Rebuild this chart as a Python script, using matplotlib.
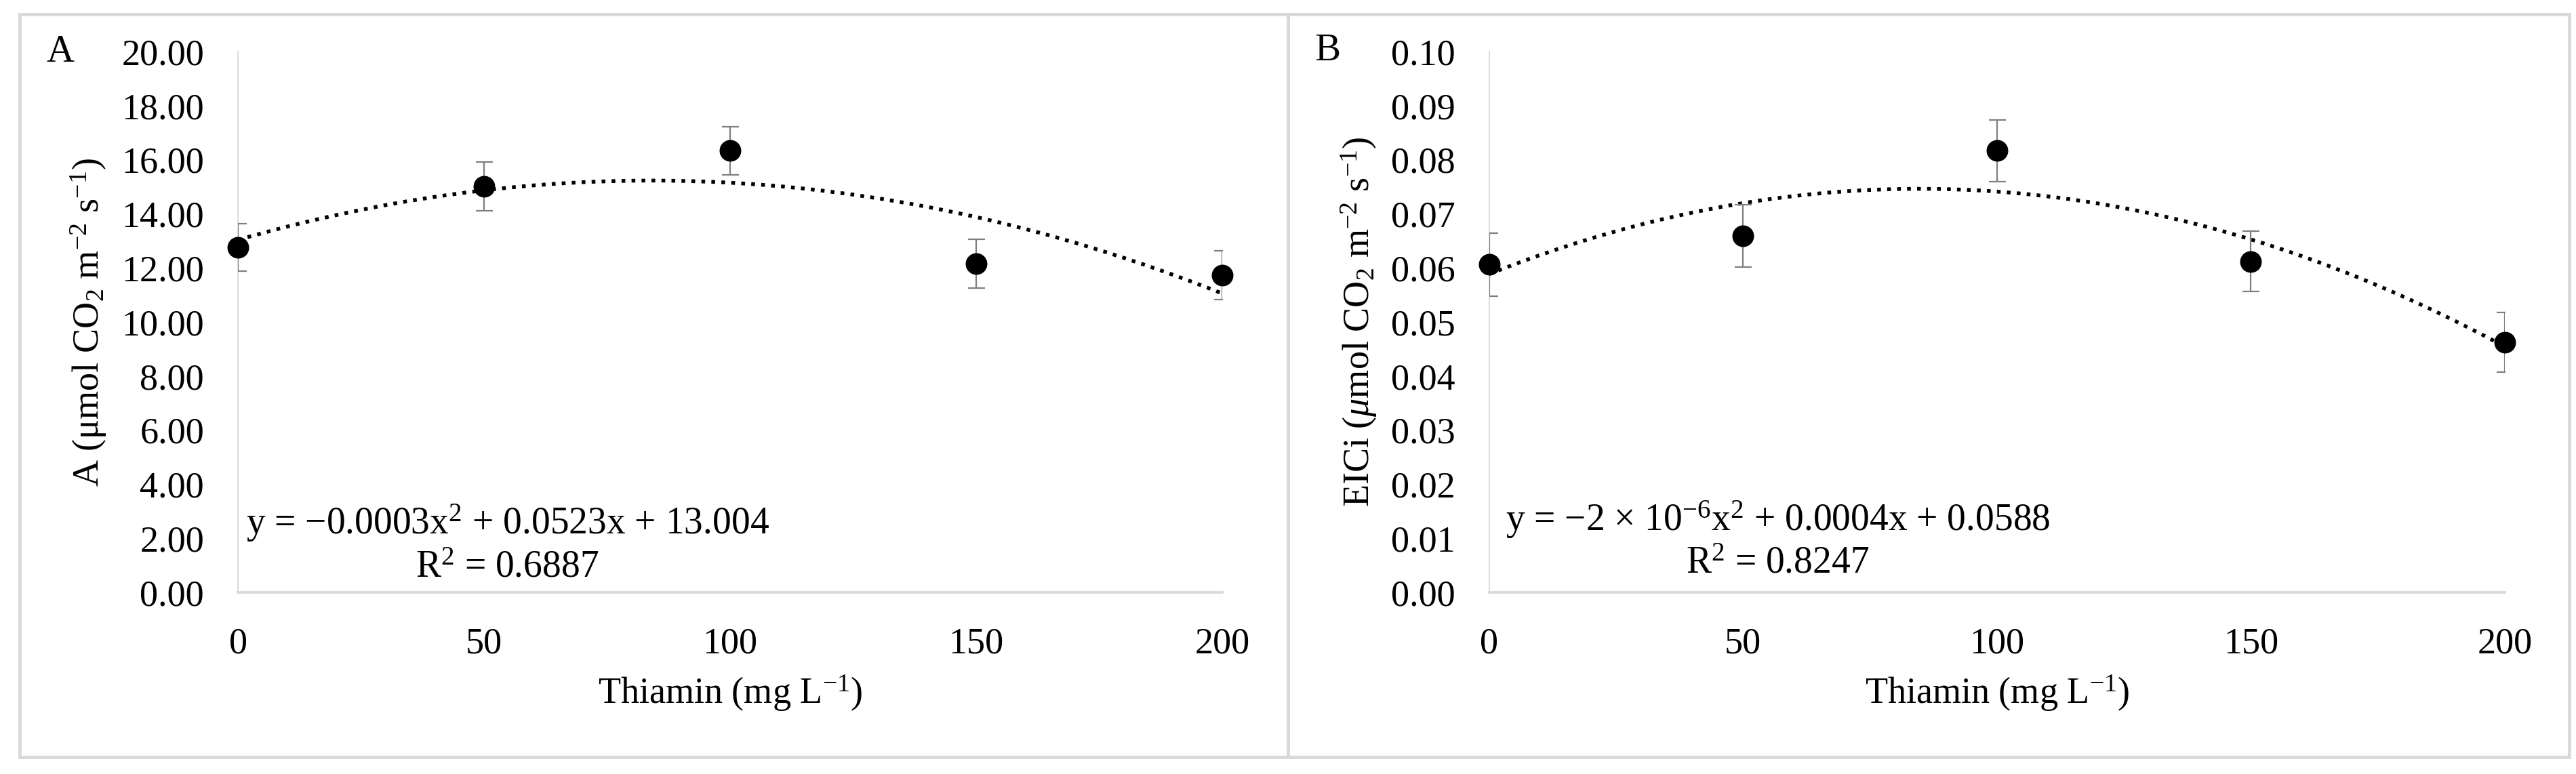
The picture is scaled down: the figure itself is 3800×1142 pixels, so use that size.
import numpy as np
import matplotlib
matplotlib.use('Agg')
import matplotlib.pyplot as plt
from matplotlib.patches import Rectangle

plt.rcParams['font.family'] = ['Liberation Serif', 'DejaVu Serif']
plt.rcParams['mathtext.fontset'] = 'custom'
plt.rcParams['mathtext.rm'] = 'Liberation Serif'
plt.rcParams['mathtext.it'] = 'Liberation Serif:italic'

# data
thiamin = [0, 50, 100, 150, 200]
a_mean = [12.76, 15.02, 16.33, 12.15, 11.72]
a_err = [0.87, 0.90, 0.88, 0.90, 0.90]
eici_mean = [0.0606, 0.0659, 0.0817, 0.0612, 0.0462]
eici_err = [0.0058, 0.0058, 0.0057, 0.0056, 0.0055]

x_ticks = [0, 50, 100, 150, 200]
a_ticks = [0, 2, 4, 6, 8, 10, 12, 14, 16, 18, 20]
eici_ticks = [0.00, 0.01, 0.02, 0.03, 0.04, 0.05, 0.06, 0.07, 0.08, 0.09, 0.10]

a_ylabel = 'A (μmol CO$_2$ m$^{-2}$ s$^{-1}$)'
eici_ylabel = 'EICi ($\\mu$mol CO$_2$ m$^{-2}$ s$^{-1}$)'
x_label = 'Thiamin (mg L$^{-1}$)'
a_eq = 'y = −0.0003x$^2$ + 0.0523x + 13.004'
a_r2 = 'R$^2$ = 0.6887'
eici_eq = 'y = −2 × 10$^{-6}$x$^2$ + 0.0004x + 0.0588'
eici_r2 = 'R$^2$ = 0.8247'

FS = 39
W, H = 3800, 1142

fig = plt.figure(figsize=(W / 100, H / 100), dpi=100)

# panel frames
fig.add_artist(Rectangle((29 / W, 1 - 1117 / H), (1900 - 29) / W, (1117 - 21) / H,
                         transform=fig.transFigure, fill=False, ec='#d9d9d9', lw=3.5))
fig.add_artist(Rectangle((1900 / W, 1 - 1117 / H), (3790 - 1900) / W, (1117 - 21) / H,
                         transform=fig.transFigure, fill=False, ec='#d9d9d9', lw=3.5))

ax1 = fig.add_axes([351 / W, 1 - 874 / H, (1803 - 351) / W, (874 - 76) / H])
ax2 = fig.add_axes([2196.5 / W, 1 - 874 / H, (3695 - 2196.5) / W, (874 - 76) / H])


def draw(ax, ymean, yerr, yticks, fmt, ylabel, ylab_x, eq, eq_pos, r2, r2_pos):
    coef = np.polyfit(thiamin, ymean, 2)
    xx = np.linspace(0, 200, 300)
    ax.plot(xx, np.polyval(coef, xx), color='black', lw=4, ls=':', zorder=2)
    ax.errorbar(thiamin, ymean, yerr=yerr, fmt='none', ecolor='#7f7f7f',
                elinewidth=1.6, capsize=9, capthick=1.6, zorder=3)
    ax.plot(thiamin, ymean, 'o', color='black', ms=22, zorder=4, clip_on=False)
    ax.set_xlim(0, 200)
    ax.set_ylim(yticks[0], yticks[-1])
    ax.set_xticks(x_ticks)
    ax.set_yticks(yticks)
    ax.set_yticklabels([fmt % t for t in yticks])
    ax.tick_params(axis='both', length=0, labelsize=FS)
    ax.tick_params(axis='y', pad=36)
    ax.tick_params(axis='x', pad=37)
    for s in ['top', 'right']:
        ax.spines[s].set_visible(False)
    ax.spines['left'].set_color('#d9d9d9')
    ax.spines['left'].set_linewidth(1.3)
    ax.spines['bottom'].set_color('#d9d9d9')
    ax.spines['bottom'].set_linewidth(2.8)
    ax.set_ylabel(ylabel, fontsize=FS)
    ax.yaxis.set_label_coords(ylab_x, 0.5)
    ax.yaxis.label.set_va('center')
    ax.set_xlabel(x_label, fontsize=FS)
    ax.xaxis.set_label_coords(0.5, -0.1867)
    ax.xaxis.label.set_va('center')
    ax.text(eq_pos[0], eq_pos[1], eq, transform=ax.transAxes, fontsize=FS + 1,
            ha='center', va='center')
    ax.text(r2_pos[0], r2_pos[1], r2, transform=ax.transAxes, fontsize=FS + 1,
            ha='center', va='center')


draw(ax1, a_mean, a_err, a_ticks, '%.2f', a_ylabel, -0.152,
     a_eq, (0.2738, 0.128), a_r2, (0.2738, 0.046))
draw(ax2, eici_mean, eici_err, eici_ticks, '%.2f', eici_ylabel, -0.128,
     eici_eq, (0.2843, 0.134), eici_r2, (0.2843, 0.053))

fig.text(89 / W, 1 - 77 / H, 'A', fontsize=FS + 2, ha='center', va='center')
fig.text(1958 / W, 1 - 75 / H, 'B', fontsize=FS + 2, ha='center', va='center')

fig.savefig('out.png', dpi=100, facecolor='white')
